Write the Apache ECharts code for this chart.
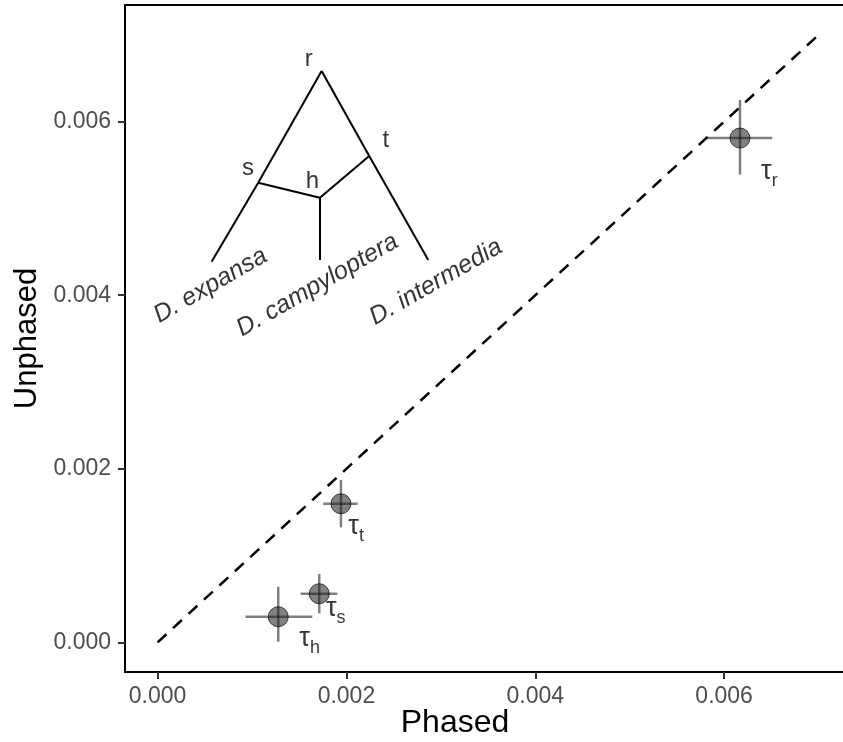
<!DOCTYPE html>
<html>
<head>
<meta charset="utf-8">
<script src="https://cdn.jsdelivr.net/npm/echarts@6/dist/echarts.min.js"></script>
<style>
  html, body { margin: 0; padding: 0; background: #fff; }
  #chart { width: 843px; height: 742px; }
</style>
</head>
<body>
<div id="chart"></div>
<script>
// ---- data ----
const pointNames   = ['r', 't', 's', 'h'];
const phased       = [0.006168, 0.001942, 0.001712, 0.001278];
const unphased     = [0.005812, 0.001597, 0.000560, 0.000295];
const phasedLow    = [0.005820, 0.001754, 0.001515, 0.000932];
const phasedHigh   = [0.006510, 0.002119, 0.001903, 0.001638];
const unphasedLow  = [0.005390, 0.001325, 0.000334, 0.000007];
const unphasedHigh = [0.006250, 0.001870, 0.000787, 0.000640];
const labelX       = [0.006391, 0.002019, 0.001783, 0.001500];
const labelY       = [0.005426, 0.001335, 0.000384, 0.000038];

const identityLine = [[0, 0], [0.00703, 0.00703]];

const tickValues = [0, 0.002, 0.004, 0.006];
const xRange = [-0.000345, 0.007259];
const yRange = [-0.000342, 0.007345];

// inset tree (drawn in data coordinates)
const treeNodes = {
  r: [0.0017373, 0.006584],
  s: [0.0010657, 0.005297],
  h: [0.0017190, 0.005124],
  t: [0.0022415, 0.005605],
  expansa: [0.000572, 0.004386],
  campyloptera: [0.001719, 0.004406],
  intermedia: [0.0028665, 0.004406]
};
const treeEdges = [['r', 's'], ['s', 'expansa'], ['r', 't'], ['t', 'intermedia'], ['s', 'h'], ['h', 't'], ['h', 'campyloptera']];
const nodeLabels = ['r', 's', 'h', 't'];
const nodeLabelX = [0.001600, 0.000957, 0.001640, 0.002418];
const nodeLabelY = [0.006720, 0.005466, 0.005316, 0.005789];
const speciesLabels = ['D. expansa', 'D. campyloptera', 'D. intermedia'];
const speciesX = [0.000560, 0.001693, 0.002948];
const speciesY = [0.004110, 0.004116, 0.004151];

// ---- chart ----
const FONT = '"Liberation Sans", Arial, Helvetica, sans-serif';
const chart = echarts.init(document.getElementById('chart'));

const axisCommon = {
  type: 'value',
  axisLine: { show: true, onZero: false, lineStyle: { color: '#000', width: 2 } },
  axisTick: { show: true, length: 7, customValues: tickValues, lineStyle: { color: '#333', width: 2 } },
  axisLabel: { customValues: tickValues, color: '#4d4d4d', fontSize: 23, fontFamily: FONT,
               formatter: v => v.toFixed(3) },
  splitLine: { show: false },
  nameLocation: 'middle',
  nameTextStyle: { color: '#000', fontSize: 31, fontFamily: FONT }
};

const points = phased.map((x, i) => [x, unphased[i]]);
const bars = phased.map((x, i) => [x, unphased[i], phasedLow[i], phasedHigh[i], unphasedLow[i], unphasedHigh[i]]);

chart.setOption({
  animation: false,
  backgroundColor: '#fff',
  grid: { left: 125, right: 0, top: 5, bottom: 70, containLabel: false, outerBoundsMode: 'none' },
  xAxis: [
    Object.assign({}, axisCommon, {
      min: xRange[0], max: xRange[1],
      name: 'Phased', nameGap: 35, nameMoveOverlap: false,
      nameTextStyle: Object.assign({}, axisCommon.nameTextStyle, { fontSize: 32, padding: [0, 58, 0, 0] }),
      axisLabel: Object.assign({}, axisCommon.axisLabel, { margin: 13 })
    }),
    { type: 'value', position: 'top', min: xRange[0], max: xRange[1],
      axisLine: { show: true, onZero: false, lineStyle: { color: '#000', width: 2 } },
      axisTick: { show: false }, axisLabel: { show: false }, splitLine: { show: false } }
  ],
  yAxis: Object.assign({}, axisCommon, {
    min: yRange[0], max: yRange[1],
    name: 'Unphased', nameGap: 80,
    axisLabel: Object.assign({}, axisCommon.axisLabel, { margin: 14 })
  }),
  series: [
    {
      type: 'line', data: identityLine, symbol: 'none', silent: true,
      lineStyle: { color: '#000', width: 2.5, type: [12, 9] }
    },
    {
      type: 'lines', coordinateSystem: 'cartesian2d', silent: true,
      lineStyle: { color: '#000', width: 2, opacity: 1 },
      data: treeEdges.map(e => ({ coords: [treeNodes[e[0]], treeNodes[e[1]]] }))
    },
    {
      type: 'custom', silent: true, data: bars,
      renderItem: function (params, api) {
        const c1 = api.coord([api.value(2), api.value(1)]);
        const c2 = api.coord([api.value(3), api.value(1)]);
        const c3 = api.coord([api.value(0), api.value(4)]);
        const c4 = api.coord([api.value(0), api.value(5)]);
        const st = { stroke: 'rgba(0,0,0,0.5)', lineWidth: 2.5 };
        return { type: 'group', children: [
          { type: 'line', shape: { x1: c1[0], y1: c1[1], x2: c2[0], y2: c2[1] }, style: st },
          { type: 'line', shape: { x1: c3[0], y1: c3[1], x2: c4[0], y2: c4[1] }, style: st }
        ] };
      }
    },
    {
      type: 'scatter', data: points, symbolSize: 20, silent: true,
      itemStyle: { color: 'rgba(30,30,30,0.7)', borderColor: 'rgba(0,0,0,0.85)', borderWidth: 1 }
    },
    {
      type: 'scatter', symbolSize: 0, silent: true,
      data: labelX.map((x, i) => ({ value: [x, labelY[i]], name: pointNames[i] })),
      label: {
        show: true, position: 'right', distance: 0,
        formatter: p => '{t|τ}{s|' + p.name + '}',
        rich: {
          t: { fontSize: 27, lineHeight: 27, fontFamily: FONT, color: '#000', verticalAlign: 'top' },
          s: { fontSize: 18, lineHeight: 18, fontFamily: FONT, color: '#000', verticalAlign: 'top', padding: [14, 0, 0, 0] }
        }
      }
    },
    {
      type: 'scatter', symbolSize: 0, silent: true,
      data: nodeLabelX.map((x, i) => ({ value: [x, nodeLabelY[i]], name: nodeLabels[i] })),
      label: { show: true, position: 'inside', formatter: p => p.name, fontSize: 24, fontFamily: FONT, color: '#000' }
    },
    {
      type: 'scatter', symbolSize: 0, silent: true,
      data: speciesX.map((x, i) => ({ value: [x, speciesY[i]], name: speciesLabels[i] })),
      label: { show: true, position: 'inside', rotate: 30, formatter: p => p.name,
               fontSize: 25, fontStyle: 'italic', fontFamily: FONT, color: '#000' }
    }
  ]
});
</script>
</body>
</html>
